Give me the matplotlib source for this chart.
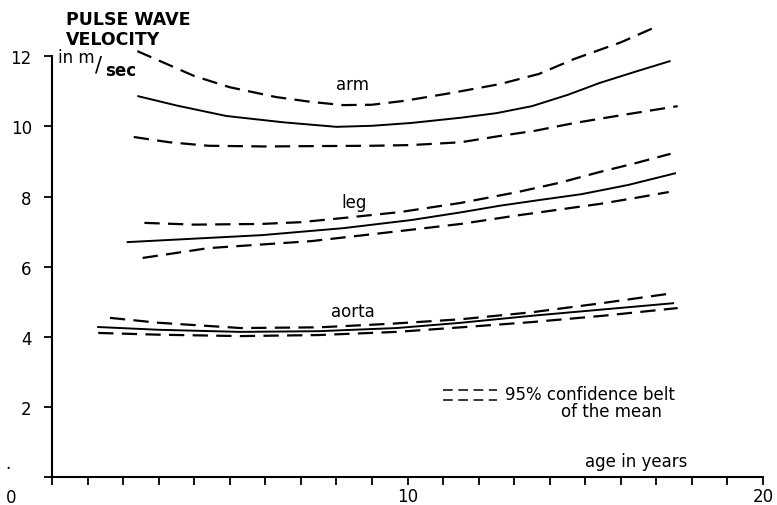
import matplotlib
matplotlib.use("Agg")
import matplotlib.pyplot as plt

plt.rcParams["font.family"] = ["DejaVu Sans"]
plt.rcParams["lines.scale_dashes"] = False

# ---------------------------------------------------------------------------
# Data (age in years -> pulse wave velocity in m/sec)
# ---------------------------------------------------------------------------
arm_hi_x = [2.4, 4.0, 5.0, 6.3, 7.3, 8.2, 9.0, 9.9, 11.2, 12.6, 13.7, 14.7, 16.0, 17.05]
arm_hi_y = [12.15, 11.44, 11.12, 10.84, 10.7, 10.61, 10.62, 10.73, 10.95, 11.21, 11.5, 11.93, 12.4, 12.87]
arm_mean_x = [2.4, 3.5, 4.9, 6.5, 8.0, 9.0, 10.1, 11.5, 12.5, 13.5, 14.5, 15.4, 16.4, 17.4]
arm_mean_y = [10.87, 10.6, 10.3, 10.12, 9.99, 10.02, 10.1, 10.25, 10.38, 10.58, 10.9, 11.24, 11.56, 11.87]
arm_lo_x = [2.3, 3.3, 4.4, 6.0, 7.3, 9.0, 10.1, 11.5, 12.6, 13.6, 14.7, 16.0, 17.6]
arm_lo_y = [9.7, 9.55, 9.45, 9.43, 9.44, 9.45, 9.47, 9.55, 9.73, 9.88, 10.1, 10.32, 10.58]

leg_hi_x = [2.6, 4.0, 5.9, 7.0, 8.2, 9.8, 11.5, 13.1, 14.3, 15.4, 16.4, 17.4]
leg_hi_y = [7.25, 7.2, 7.22, 7.27, 7.39, 7.56, 7.82, 8.13, 8.4, 8.7, 8.95, 9.22]
leg_mean_x = [2.1, 4.0, 5.9, 8.2, 10.1, 11.5, 12.6, 13.7, 14.9, 16.2, 17.55]
leg_mean_y = [6.7, 6.8, 6.9, 7.1, 7.33, 7.55, 7.74, 7.9, 8.07, 8.33, 8.67]
leg_lo_x = [2.55, 4.4, 7.3, 9.9, 11.5, 13.0, 14.2, 15.4, 16.4, 17.35]
leg_lo_y = [6.25, 6.53, 6.73, 7.03, 7.22, 7.45, 7.62, 7.79, 7.96, 8.13]

aorta_hi_x = [1.63, 3.0, 5.3, 7.5, 9.5, 11.5, 13.5, 15.4, 17.3]
aorta_hi_y = [4.54, 4.4, 4.25, 4.27, 4.37, 4.5, 4.7, 4.95, 5.22]
aorta_mean_x = [1.27, 3.0, 5.3, 7.5, 9.7, 11.5, 13.5, 15.5, 17.5]
aorta_mean_y = [4.28, 4.2, 4.14, 4.16, 4.25, 4.4, 4.6, 4.78, 4.96]
aorta_lo_x = [1.3, 3.0, 5.3, 7.5, 9.7, 11.5, 13.5, 15.5, 17.6]
aorta_lo_y = [4.11, 4.06, 4.02, 4.05, 4.14, 4.27, 4.42, 4.6, 4.82]

curve_labels = ["arm", "leg", "aorta"]
label_pos = [(8.45, 11.2), (8.5, 7.85), (8.45, 4.75)]

x_ticks = list(range(0, 21))
y_ticks = [0, 2, 4, 6, 8, 10, 12]
y_tick_labels = ["", "2", "4", "6", "8", "10", "12"]

# ---------------------------------------------------------------------------
fig = plt.figure(figsize=(7.77, 5.06), dpi=100)
ax = fig.add_axes([52 / 777, 28 / 506, 711 / 777, 476.7 / 506])
ax.set_xlim(0, 20)
ax.set_ylim(0, 13.6)

DASH = (0, (11, 6))
solid_kw = dict(color="black", lw=1.4, solid_capstyle="butt", clip_on=False)
dash_kw = dict(color="black", lw=1.6, ls=DASH, dash_capstyle="butt", clip_on=False)

ax.plot(arm_hi_x, arm_hi_y, **dash_kw)
ax.plot(arm_mean_x, arm_mean_y, **solid_kw)
ax.plot(arm_lo_x, arm_lo_y, **dash_kw)

ax.plot(leg_hi_x, leg_hi_y, **dash_kw)
ax.plot(leg_mean_x, leg_mean_y, **solid_kw)
ax.plot(leg_lo_x, leg_lo_y, **dash_kw)

ax.plot(aorta_hi_x, aorta_hi_y, **dash_kw)
ax.plot(aorta_mean_x, aorta_mean_y, **solid_kw)
ax.plot(aorta_lo_x, aorta_lo_y, **dash_kw)

for name, (tx, ty) in zip(curve_labels, label_pos):
    ax.text(tx, ty, name, ha="center", va="center", fontsize=12)

# axes styling
for side in ("top", "right"):
    ax.spines[side].set_visible(False)
ax.spines["left"].set_bounds(0, 12)
ax.spines["left"].set_linewidth(1.5)
ax.spines["bottom"].set_linewidth(1.5)

ax.set_yticks(y_ticks)
ax.set_yticklabels(y_tick_labels, fontsize=12)
ax.set_xticks(x_ticks)
ax.set_xticklabels(["10" if t == 10 else "20" if t == 20 else "" for t in x_ticks],
                   fontsize=12)
ax.tick_params(axis="both", direction="out", length=5.5, width=1.3, color="black")
ax.tick_params(axis="y", pad=9)
ax.tick_params(axis="x", pad=1.5)

ax.text(-1.15, -0.3, "0", ha="center", va="top", fontsize=12, clip_on=False)
ax.text(-1.25, 0.15, ".", ha="center", va="bottom", fontsize=12, clip_on=False)

# y-axis title
ax.text(0.38, 13.07, "PULSE WAVE", ha="left", va="center", fontsize=12.5,
        fontweight="bold", clip_on=False)
ax.text(0.38, 12.5, "VELOCITY", ha="left", va="center", fontsize=12.5,
        fontweight="bold", clip_on=False)
ax.text(0.17, 11.97, "in m", ha="left", va="center", fontsize=12, clip_on=False)
ax.text(1.22, 11.76, "/", ha="left", va="center", fontsize=15, clip_on=False)
ax.text(1.5, 11.6, "sec", ha="left", va="center", fontsize=12,
        fontweight="bold", clip_on=False)

# legend key
key_x = [11.0, 12.52]
for ky in (2.48, 2.2):
    ax.plot(key_x, [ky, ky], color="black", lw=1.1, ls=(0, (7, 4)),
            dash_capstyle="butt")
ax.text(12.74, 2.37, "95% confidence belt", ha="left", va="center", fontsize=12)
ax.text(14.32, 1.88, "of the mean", ha="left", va="center", fontsize=12)

ax.text(15.0, 0.46, "age in years", ha="left", va="center", fontsize=12)

fig.savefig("out.png", dpi=100)
